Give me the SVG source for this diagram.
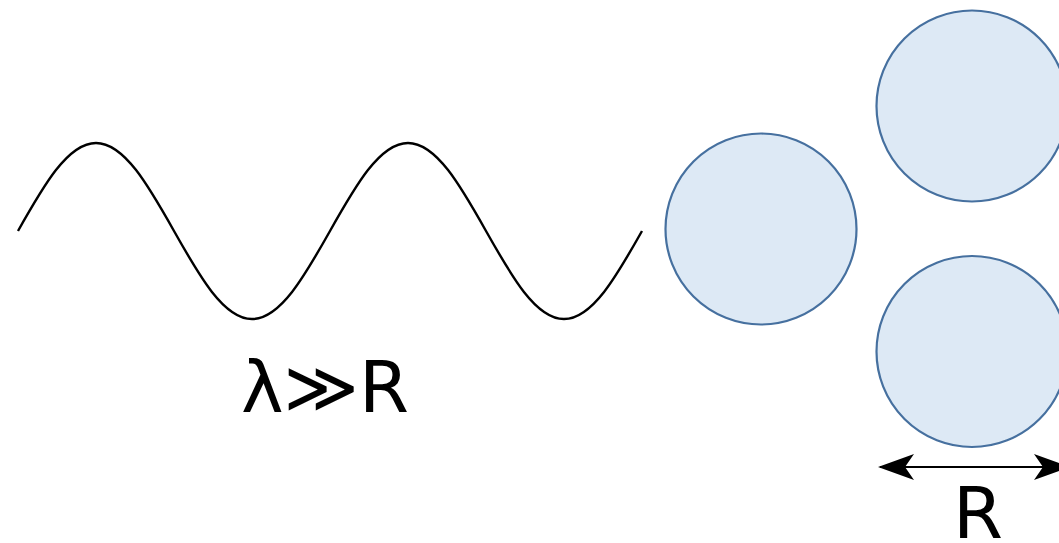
<svg xmlns="http://www.w3.org/2000/svg" width="1059" height="543" viewBox="0 0 1059 543">
<style>
.p{fill:#dde9f5;stroke:#46709f;stroke-width:2.2}
.t{font-family:"DejaVu Sans",sans-serif;font-size:72px;fill:#000}
</style>
<defs>
<marker id="ah" viewBox="0 0 36 28" refX="34" refY="14" markerWidth="36" markerHeight="28" markerUnits="userSpaceOnUse" orient="auto-start-reverse">
<path d="M0,1 L36,14 L0,27 L9,14 Z" fill="#000"/>
</marker>
</defs>
<rect width="1059" height="543" fill="#fff"/>
<g id="wave">
<path d="M18,231 C43.4,185.9 67.8,143 96,143 C124.2,143 148.6,185.9 174,231 C199.4,276.1 223.8,319 252,319 C280.2,319 304.6,276.1 330,231 C355.4,185.9 379.8,143 408,143 C436.2,143 460.6,185.9 486,231 C511.4,276.1 535.8,319 564,319 C592.2,319 616.6,276.1 642,231" fill="none" stroke="#000" stroke-width="2.4"/>
</g>
<g id="label-lambda"><text class="t" x="325" y="412" text-anchor="middle">λ≫R</text></g>
<g id="particle1"><circle class="p" cx="761" cy="229" r="95.5"/></g>
<g id="particle2"><circle class="p" cx="972" cy="106" r="95.5"/></g>
<g id="particle3"><circle class="p" cx="972" cy="351.5" r="95.5"/></g>
<g id="connectors">
<line x1="880" y1="467" x2="1068" y2="467" stroke="#000" stroke-width="2.2" marker-start="url(#ah)" marker-end="url(#ah)"/>
</g>
<g id="label-R"><text class="t" x="978" y="538" text-anchor="middle">R</text></g>
</svg>
